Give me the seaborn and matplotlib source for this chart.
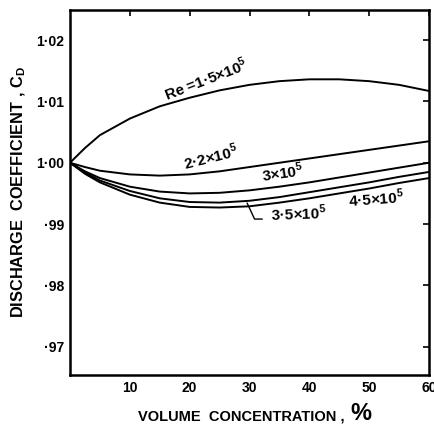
import numpy as np
import pandas as pd
import matplotlib
matplotlib.use("Agg")
import matplotlib.pyplot as plt
import seaborn as sns

# ---- data ----
conc = [0, 2.5, 5, 10, 15, 20, 25, 30, 35, 40, 45, 50, 55, 60]
cd_re15 = [1.0000, 1.0024, 1.0045, 1.0072, 1.0092, 1.0106, 1.0118, 1.0127, 1.0133, 1.0136, 1.0136, 1.0133, 1.0127, 1.0117]
cd_re22 = [1.0000, 0.9993, 0.9987, 0.9981, 0.9979, 0.9981, 0.9986, 0.9993, 1.0000, 1.0007, 1.0014, 1.0021, 1.0028, 1.0035]
cd_re30 = [1.0000, 0.9986, 0.9975, 0.9961, 0.9953, 0.9950, 0.9951, 0.9955, 0.9961, 0.9968, 0.9976, 0.9984, 0.9992, 1.0000]
cd_re35 = [1.0000, 0.9984, 0.9971, 0.9954, 0.9942, 0.9936, 0.9935, 0.9938, 0.9944, 0.9952, 0.9960, 0.9968, 0.9977, 0.9985]
cd_re45 = [1.0000, 0.9982, 0.9968, 0.9948, 0.9935, 0.9928, 0.9927, 0.9929, 0.9935, 0.9942, 0.9950, 0.9958, 0.9967, 0.9975]
series_names = ["1.5e5", "2.2e5", "3e5", "3.5e5", "4.5e5"]
yticks = [0.97, 0.98, 0.99, 1.00, 1.01, 1.02]
ytick_labels = ["·97", "·98", "·99", "1·00", "1·01", "1·02"]
xticks = [10, 20, 30, 40, 50, 60]
xtick_labels = ["10", "20", "30", "40", "50", "60"]

rows = []
for name, vals in zip(series_names, [cd_re15, cd_re22, cd_re30, cd_re35, cd_re45]):
    for c, v in zip(conc, vals):
        rows.append({"conc": c, "cd": v, "Re": name})
df = pd.DataFrame(rows)

sns.set_theme(style="white")
plt.rcParams["font.family"] = ["Liberation Sans", "DejaVu Sans"]
plt.rcParams["font.weight"] = "bold"
plt.rcParams["mathtext.fontset"] = "custom"
plt.rcParams["mathtext.bf"] = "Liberation Sans:bold"
plt.rcParams["mathtext.rm"] = "Liberation Sans:bold"

fig = plt.figure(figsize=(4.34, 4.28), dpi=100)
ax = fig.add_axes([70 / 434, 1 - 375 / 428, (429 - 70) / 434, (375 - 10) / 428])

sns.lineplot(data=df, x="conc", y="cd", hue="Re", palette=["black"] * 5,
             legend=False, ax=ax, linewidth=1.4)

ax.set_xlim(0, 60)
ax.set_ylim(0.9654, 1.0249)
ax.set_xticks(xticks)
ax.set_xticklabels(xtick_labels, fontsize=10, fontweight="bold")
ax.set_yticks(yticks)
ax.set_yticklabels(ytick_labels, fontsize=10, fontweight="bold")
ax.tick_params(direction="in", length=4, width=1.2, top=True, right=True,
               colors="black", pad=4)
for s in ax.spines.values():
    s.set_color("black")
    s.set_linewidth(1.8)

ax.set_xlabel("VOLUME  CONCENTRATION ,", fontsize=10.5, fontweight="bold",
              color="black")
ax.xaxis.set_label_coords(0.478, -0.095)
fig.text(350 / 434, 1 - 413 / 428, "%", fontsize=17, fontweight="bold",
         va="center", ha="left", color="black")
ax.set_ylabel(r"DISCHARGE  COEFFICIENT , C$_{\mathbf{D}}$", fontsize=11.8,
              fontweight="bold", color="black")
ax.yaxis.set_label_coords(-0.118, 0.5)

tk = dict(fontsize=11, fontweight="bold", color="black",
          rotation_mode="anchor", ha="left", va="baseline")
ax.text(16.2, 1.0100, r"Re =1·5×10$^{\mathbf{5}}$", rotation=21, **tk)
ax.text(19.3, 0.99885, r"2·2×10$^{\mathbf{5}}$", rotation=14, **tk)
ax.text(32.2, 0.99685, r"3×10$^{\mathbf{5}}$", rotation=8, **tk)
ax.text(33.6, 0.99045, r"3·5×10$^{\mathbf{5}}$", rotation=2, **tk)
ax.text(46.6, 0.99285, r"4·5×10$^{\mathbf{5}}$", rotation=4, **tk)
ax.annotate("", xy=(29.4, 0.99385), xytext=(32.6, 0.99082),
            arrowprops=dict(arrowstyle="-", color="black", lw=1.0,
                            connectionstyle="angle,angleA=0,angleB=-65,rad=0"))

fig.savefig("out.png", dpi=100, facecolor="white")
